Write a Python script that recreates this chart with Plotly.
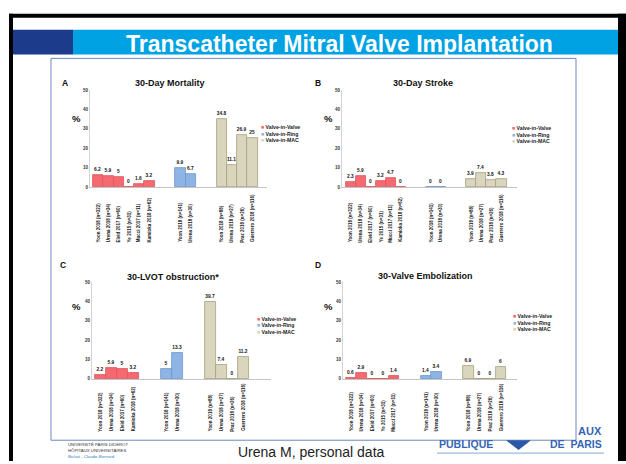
import plotly.graph_objects as go

W, H = 626, 464

# ---------------- data ----------------
series_names = ["Valve-in-Valve", "Valve-in-Ring", "Valve-in-MAC"]
series_colors = ["#F46A70", "#8EB4E3", "#DAD5BD"]
series_lines = ["#E0545B", "#6E96CF", "#A59F7C"]

viv_labels_6 = ["Yoon 2018 (n=322)", "Urena 2018 (n=34)", "Eleid 2017 (n=60)",
                "Ye 2015 (n=31)", "Mucci 2017 (n=11)", "Kamioka 2018 (n=62)"]
viv_labels_4 = ["Yoon 2018 (n=322)", "Urena 2018 (n=34)", "Eleid 2017 (n=60)",
                "Kamioka 2018 (n=62)"]
viv_labels_5 = ["Yoon 2018 (n=322)", "Urena 2018 (n=34)", "Eleid 2017 (n=60)",
                "Ye 2015 (n=31)", "Mucci 2017 (n=11)"]
vir_labels = ["Yoon 2018 (n=141)", "Urena 2018 (n=30)"]
vim_labels = ["Yoon 2018 (n=88)", "Urena 2018 (n=27)", "Praz 2018 (n=26)",
              "Guerrero 2018 (n=116)"]

mortality_viv = [6.2, 5.9, 5, 0, 1.6, 3.2]
mortality_vir = [9.9, 6.7]
mortality_vim = [34.8, 11.1, 26.9, 25]

stroke_viv = [2.3, 5.9, 0, 3.2, 4.7, 0]
stroke_vir = [0, 0]
stroke_vim = [3.9, 7.4, 3.8, 4.3]

lvot_viv = [2.2, 5.9, 5, 3.2]
lvot_vir = [5, 13.3]
lvot_vim = [39.7, 7.4, 0, 11.2]

embol_viv = [0.6, 2.9, 0, 0, 1.4]
embol_vir = [1.4, 3.4]
embol_vim = [6.9, 0, 0, 6]

y_ticks = [0, 10, 20, 30, 40, 50]

# ---------------- layout helpers (pixel -> paper) ----------------
def px(x):
    return x / W


def py(y):
    return 1 - y / H


GAP = 2  # empty slots between study groups

panels = [
    dict(letter="A", title="30-Day Mortality",
         groups=[(viv_labels_6, mortality_viv), (vir_labels, mortality_vir), (vim_labels, mortality_vim)],
         xdom=(90, 267), xr=(-0.79, 16.4), ydom=(89, 187),
         letter_xy=(65, 82), title_xy=(170, 82), pct_xy=(76, 118),
         leg_xy=(259, 126), xlab_y=245),
    dict(letter="B", title="30-Day Stroke",
         groups=[(viv_labels_6, stroke_viv), (vir_labels, stroke_vir), (vim_labels, stroke_vim)],
         xdom=(342, 517), xr=(-0.87, 16.54), ydom=(89, 187),
         letter_xy=(318, 82), title_xy=(423, 82), pct_xy=(328, 118),
         leg_xy=(510, 127), xlab_y=245),
    dict(letter="C", title="30-LVOT obstruction*",
         groups=[(viv_labels_4, lvot_viv), (vir_labels, lvot_vir), (vim_labels, lvot_vim)],
         xdom=(92, 271), xr=(-0.77, 15.5), ydom=(283, 381),
         letter_xy=(63, 266), title_xy=(173, 278), pct_xy=(76, 308),
         leg_xy=(255, 320), xlab_y=436),
    dict(letter="D", title="30-Valve Embolization",
         groups=[(viv_labels_5, embol_viv), (vir_labels, embol_vir), (vim_labels, embol_vim)],
         xdom=(343, 517), xr=(-0.75, 15.5), ydom=(283, 381),
         letter_xy=(318, 266), title_xy=(425, 277), pct_xy=(328, 308),
         leg_xy=(511, 317), xlab_y=436),
]

FONT = "Liberation Sans, Arial, sans-serif"

fig = go.Figure()
annotations = []
shapes = []

# ---------------- slide decoration ----------------
# black frame
shapes.append(dict(type="rect", xref="paper", yref="paper", x0=px(9), x1=px(13), y0=py(H), y1=py(12),
                   fillcolor="black", line_width=0, layer="below"))
shapes.append(dict(type="rect", xref="paper", yref="paper", x0=px(9), x1=px(W), y0=py(16), y1=py(12),
                   fillcolor="black", line_width=0, layer="below"))
shapes.append(dict(type="rect", xref="paper", yref="paper", x0=px(618), x1=px(W), y0=py(H), y1=py(12),
                   fillcolor="black", line_width=0, layer="below"))
# title bar
shapes.append(dict(type="rect", xref="paper", yref="paper", x0=px(13), x1=px(73), y0=py(53), y1=py(28),
                   fillcolor="#1C3B8A", line_width=0, layer="below"))
shapes.append(dict(type="rect", xref="paper", yref="paper", x0=px(73), x1=px(618), y0=py(53), y1=py(28),
                   fillcolor="#00A2E3", line_width=0, layer="below"))
# chart box
shapes.append(dict(type="rect", xref="paper", yref="paper", x0=px(51), x1=px(576), y0=py(443), y1=py(57),
                   fillcolor="white", line=dict(color="#6C88C2", width=1), layer="below"))

annotations.append(dict(text="<b>Transcatheter Mitral Valve Implantation</b>", x=px(340), y=py(42),
                        xref="paper", yref="paper", showarrow=False, xanchor="center", yanchor="middle",
                        font=dict(family=FONT, size=23, color="white")))

# ---------------- panels ----------------
for i, p in enumerate(panels):
    n = i + 1
    xa = "x" if n == 1 else f"x{n}"
    ya = "y" if n == 1 else f"y{n}"
    xkey = "xaxis" if n == 1 else f"xaxis{n}"
    ykey = "yaxis" if n == 1 else f"yaxis{n}"

    start = 0
    for gi, (labels, values) in enumerate(p["groups"]):
        xs = list(range(start, start + len(values)))
        fig.add_trace(go.Bar(
            x=xs, y=values, xaxis=xa, yaxis=ya, name=series_names[gi],
            marker=dict(color=series_colors[gi], line=dict(color=series_lines[gi], width=0.8)),
            texttemplate="%{y}", textposition="outside", cliponaxis=False, constraintext="none",
            textfont=dict(family=FONT, size=4.8, color="#111", weight="bold"),
            showlegend=False, hoverinfo="skip",
        ))
        for xv, lab in zip(xs, labels):
            annotations.append(dict(text=lab, x=xv, y=py(p["xlab_y"]), xref=xa, yref="paper",
                                    showarrow=False, textangle=-90, xanchor="center", yanchor="bottom",
                                    font=dict(family=FONT, size=4.5, color="#222", weight="bold")))
        start += len(values) + GAP

    fig.layout[xkey] = dict(domain=[px(p["xdom"][0]), px(p["xdom"][1])], range=list(p["xr"]),
                            anchor=ya, showticklabels=False, ticks="", showgrid=False, zeroline=False,
                            showline=True, linecolor="#C4C4C4", linewidth=1, fixedrange=True)
    fig.layout[ykey] = dict(domain=[py(p["ydom"][1]), py(p["ydom"][0])], range=[0, 50],
                            anchor=xa, tickvals=y_ticks, ticks="", showgrid=False, zeroline=False,
                            showline=True, linecolor="#D4D4D4", linewidth=1,
                            tickfont=dict(family=FONT, size=4.5, color="#333", weight="bold"),
                            fixedrange=True)

    annotations.append(dict(text=p["letter"], x=px(p["letter_xy"][0]), y=py(p["letter_xy"][1]),
                            xref="paper", yref="paper", showarrow=False, xanchor="center", yanchor="middle",
                            font=dict(family=FONT, size=8.5, color="#111", weight="bold")))
    annotations.append(dict(text=p["title"], x=px(p["title_xy"][0]), y=py(p["title_xy"][1]),
                            xref="paper", yref="paper", showarrow=False, xanchor="center", yanchor="middle",
                            font=dict(family=FONT, size=9, color="#111", weight="bold")))
    annotations.append(dict(text="%", x=px(p["pct_xy"][0]), y=py(p["pct_xy"][1]),
                            xref="paper", yref="paper", showarrow=False, xanchor="center", yanchor="middle",
                            font=dict(family=FONT, size=9.5, color="#111", weight="bold")))
    # legend
    for si, (nm, col) in enumerate(zip(series_names, series_colors)):
        annotations.append(dict(text=f"<span style='color:{col}'>■</span> {nm}",
                                x=px(p["leg_xy"][0]), y=py(p["leg_xy"][1] + 7 * si),
                                xref="paper", yref="paper", showarrow=False, xanchor="left", yanchor="middle",
                                font=dict(family=FONT, size=5.2, color="#222", weight="bold")))

# ---------------- footer ----------------
annotations.append(dict(text="Urena M, personal data", x=px(311), y=py(465), xref="paper", yref="paper",
                        showarrow=False, xanchor="center", yanchor="bottom",
                        font=dict(family=FONT, size=14, color="#222")))

footer_lines = [("UNIVERSITÉ PARIS DIDEROT", "#333"), ("HÔPITAUX UNIVERSITAIRES", "#333"),
                ("Bichat - Claude-Bernard", "#2E7FC2")]
for k, (t, c) in enumerate(footer_lines):
    annotations.append(dict(text=t, x=px(66), y=py(447 + 6 * k), xref="paper", yref="paper",
                            showarrow=False, xanchor="left", yanchor="middle",
                            font=dict(family=FONT, size=4.3, color=c)))

logo_blue = "#3565B3"
annotations.append(dict(text="<b>AUX</b>", x=px(604), y=py(434), xref="paper", yref="paper",
                        showarrow=False, xanchor="right", yanchor="middle",
                        font=dict(family=FONT, size=11, color=logo_blue)))
annotations.append(dict(text="<b>PUBLIQUE</b>", x=px(437), y=py(447), xref="paper", yref="paper",
                        showarrow=False, xanchor="left", yanchor="middle",
                        font=dict(family=FONT, size=10.5, color=logo_blue)))
annotations.append(dict(text="<b>DE  PARIS</b>", x=px(604), y=py(447), xref="paper", yref="paper",
                        showarrow=False, xanchor="right", yanchor="middle",
                        font=dict(family=FONT, size=10.5, color=logo_blue)))
shapes.append(dict(type="path", xref="paper", yref="paper",
                   path=f"M {px(506)} {py(443)} L {px(531)} {py(443)} L {px(518.5)} {py(453)} Z",
                   fillcolor="#2A58A6", line_width=0))
shapes.append(dict(type="line", xref="paper", yref="paper", x0=px(437), x1=px(604), y0=py(456), y1=py(456),
                   line=dict(color="#86A6D8", width=1)))

fig.update_layout(
    width=W, height=H, margin=dict(l=0, r=0, t=0, b=0),
    paper_bgcolor="white", plot_bgcolor="rgba(0,0,0,0)",
    barmode="overlay", bargap=0,
    shapes=shapes, annotations=annotations,
    showlegend=False,
)

fig.write_html("out.html")
